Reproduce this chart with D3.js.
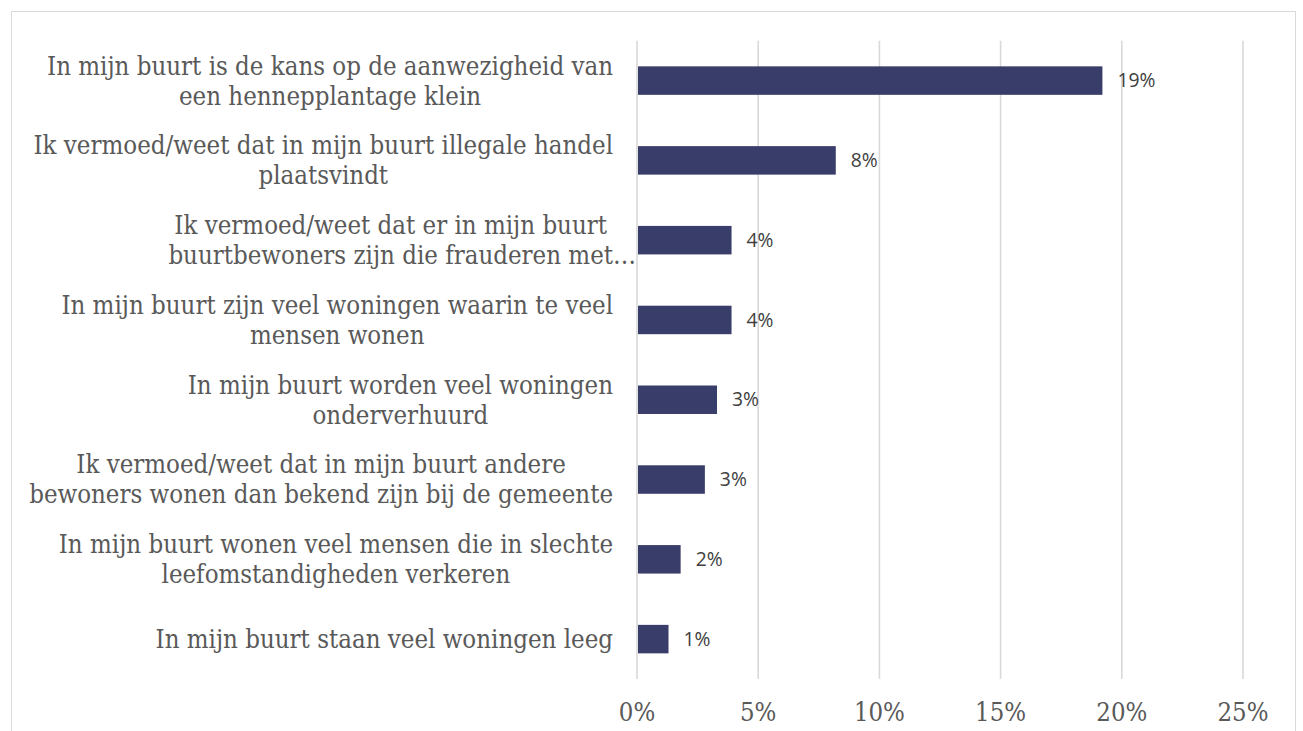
<!DOCTYPE html>
<html>
<head>
<meta charset="utf-8">
<script src="https://cdn.jsdelivr.net/npm/d3@7"></script>
<style>
html,body{margin:0;padding:0;background:#fff;}
svg{display:block;}
</style>
</head>
<body>
<svg id="chart" width="1303" height="731"></svg>
<script>
const categories = [
  ["In mijn buurt is de kans op de aanwezigheid van", "een hennepplantage klein"],
  ["Ik vermoed/weet dat in mijn buurt illegale handel", "plaatsvindt"],
  ["Ik vermoed/weet dat er in mijn buurt", "buurtbewoners zijn die frauderen met…"],
  ["In mijn buurt zijn veel woningen waarin te veel", "mensen wonen"],
  ["In mijn buurt worden veel woningen", "onderverhuurd"],
  ["Ik vermoed/weet dat in mijn buurt andere", "bewoners wonen dan bekend zijn bij de gemeente"],
  ["In mijn buurt wonen veel mensen die in slechte", "leefomstandigheden verkeren"],
  ["In mijn buurt staan veel woningen leeg"]
];
const values = [19.2, 8.2, 3.9, 3.9, 3.3, 2.8, 1.8, 1.3];
const valueLabels = ["19%", "8%", "4%", "4%", "3%", "3%", "2%", "1%"];
const xTicks = [0, 5, 10, 15, 20, 25];
const xTickLabels = ["0%", "5%", "10%", "15%", "20%", "25%"];

const svg = d3.select("#chart");
const serif = "'DejaVu Serif Condensed', 'DejaVu Serif', 'Liberation Serif', serif";
const sans = "'Open Sans', 'Noto Sans', sans-serif";

// outer frame
svg.append("rect").attr("x", 11.5).attr("y", 11.5).attr("width", 1284).attr("height", 740)
  .attr("fill", "#fff").attr("stroke", "#d9d9d9").attr("stroke-width", 1);

const plotLeft = 637, plotRight = 1243, plotTop = 40.7, plotBottom = 679;

const x = d3.scaleLinear().domain([0, 25]).range([plotLeft, plotRight]);
const y = d3.scaleBand().domain(d3.range(values.length)).range([plotTop, plotBottom])
  .paddingInner(0.643).paddingOuter(0.3215);

// gridlines
svg.append("g").selectAll("line").data(xTicks).join("line")
  .attr("x1", d => x(d)).attr("x2", d => x(d))
  .attr("y1", plotTop).attr("y2", plotBottom)
  .attr("stroke", "#d9d9d9").attr("stroke-width", 1.6);

function measure(text, font, size) {
  const t = svg.append("text").attr("font-family", font).attr("font-size", size).text(text);
  const w = t.node().getComputedTextLength();
  t.remove();
  return w;
}

// category label font size scaled to reference width
const refW = measure(categories[0][0], serif, 20);
const labelSize = 20 * 566 / refW;
const lineH = 30;
const labelRight = 613;

const lg = svg.append("g").attr("font-family", serif).attr("font-size", labelSize).attr("fill", "#595959");
categories.forEach((lines, i) => {
  const widths = lines.map(l => measure(l.replace(/…$/, ""), serif, labelSize));
  const maxW = d3.max(widths);
  const cx = labelRight - maxW / 2;
  const cy = y(i) + y.bandwidth() / 2;
  const n = lines.length;
  lines.forEach((l, j) => {
    const w = widths[j];
    const hasEll = /…$/.test(l);
    lg.append("text")
      .attr("x", hasEll ? cx - w / 2 : cx)
      .attr("text-anchor", hasEll ? "start" : "middle")
      .attr("y", cy + (j - (n - 1) / 2) * lineH)
      .attr("dy", "0.35em")
      .text(l);
  });
});

// bars
svg.append("g").selectAll("rect").data(values).join("rect")
  .attr("x", x(0) + 1)
  .attr("y", (d, i) => y(i))
  .attr("width", d => x(d) - x(0) - 1)
  .attr("height", y.bandwidth())
  .attr("fill", "#393d69");

// value labels
const valRefW = measure("19%", sans, 20);
const valSize = 20 * 38 / valRefW;
svg.append("g").selectAll("text").data(values).join("text")
  .attr("x", d => x(d) + 15)
  .attr("y", (d, i) => y(i) + y.bandwidth() / 2)
  .attr("dy", "0.35em")
  .attr("font-family", sans).attr("font-size", valSize).attr("fill", "#404040")
  .text((d, i) => valueLabels[i]);

// x axis tick labels
const tickRefW = measure("25%", serif, 20);
const tickSize = 20 * 51 / tickRefW;
svg.append("g").selectAll("text").data(xTicks).join("text")
  .attr("x", d => x(d))
  .attr("y", 721)
  .attr("text-anchor", "middle")
  .attr("font-family", serif).attr("font-size", tickSize).attr("fill", "#595959")
  .text((d, i) => xTickLabels[i]);
</script>
</body>
</html>
